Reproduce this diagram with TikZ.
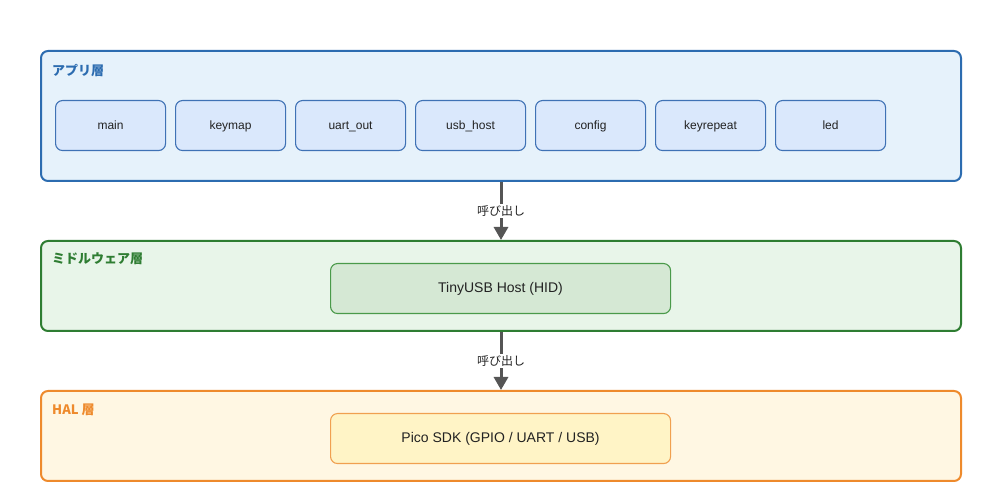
\documentclass[tikz,border=0pt]{standalone}
\usepackage{fontspec}
\setmainfont{Liberation Sans}
\newfontfamily\cjk{Noto Sans CJK JP}
\usetikzlibrary{arrows.meta}
\definecolor{appfill}{HTML}{E6F2FB}
\definecolor{appline}{HTML}{2C6CB0}
\definecolor{modfill}{HTML}{DAE8FC}
\definecolor{modline}{HTML}{3F72B5}
\definecolor{midfill}{HTML}{E8F5E9}
\definecolor{midline}{HTML}{2E7D32}
\definecolor{tufill}{HTML}{D5E8D4}
\definecolor{tuline}{HTML}{4A9A4A}
\definecolor{halfill}{HTML}{FFF7E3}
\definecolor{halline}{HTML}{EE8A2C}
\definecolor{picofill}{HTML}{FFF4C6}
\definecolor{picoline}{HTML}{F0A050}
\definecolor{arrowc}{HTML}{555555}
\definecolor{txt}{HTML}{222222}
\tikzset{
  layer/.style={draw, line width=2pt, rounded corners=7pt, anchor=north west, inner sep=0pt},
  modbox/.style={draw=modline, fill=modfill, line width=1.1pt, rounded corners=7pt, minimum width=110pt, minimum height=50pt, anchor=north west, font=\fontsize{12}{14}\selectfont, text=txt, text height=10pt, text depth=1.6pt},
  widebox/.style={line width=1.1pt, rounded corners=7pt, minimum width=340pt, minimum height=50pt, anchor=north west, font=\fontsize{14}{16}\selectfont, text=txt, text height=11pt, text depth=2.4pt},
  layerlabel/.style={anchor=west, inner sep=0pt, font=\cjk\bfseries\fontsize{13}{15}\selectfont},
  callarrow/.style={draw=arrowc, line width=3pt, -{Triangle[length=13pt,width=14pt]}},
  calllabel/.style={fill=white, inner sep=2pt, font=\cjk\fontsize{12}{14}\selectfont, text=txt}
}
\begin{document}
\begin{tikzpicture}[x=1pt,y=-1pt]
\useasboundingbox (0,0) rectangle (1002,502);
\fill[white] (0,0) rectangle (1002,502);
% layers
\node[layer, draw=appline, fill=appfill, minimum width=920pt, minimum height=130pt] (app) at (40,50) {};
\node[layer, draw=midline, fill=midfill, minimum width=920pt, minimum height=90pt] (mid) at (40,240) {};
\node[layer, draw=halline, fill=halfill, minimum width=920pt, minimum height=90pt] (hal) at (40,390) {};
\node[layerlabel, text=appline] (applbl) at (52,70) {アプリ層};
\node[layerlabel, text=midline] (midlbl) at (52,259) {ミドルウェア層};
\node[layerlabel, text=halline] (hallbl) at (52,410) {HAL 層};
% modules
\node[modbox] (main) at (55,100) {main};
\node[modbox] (keymap) at (175,100) {keymap};
\node[modbox] (uartout) at (295,100) {uart\_out};
\node[modbox] (usbhost) at (415,100) {usb\_host};
\node[modbox] (config) at (535,100) {config};
\node[modbox] (keyrepeat) at (655,100) {keyrepeat};
\node[modbox] (led) at (775,100) {led};
% middleware & HAL
\node[widebox, draw=tuline, fill=tufill] (tinyusb) at (330,263) {TinyUSB Host (HID)};
\node[widebox, draw=picoline, fill=picofill] (pico) at (330,413) {Pico SDK (GPIO / UART / USB)};
% arrows
\draw[callarrow] (app.south) -- node[calllabel] {呼び出し} (mid.north);
\draw[callarrow] (mid.south) -- node[calllabel] {呼び出し} (hal.north);
\end{tikzpicture}
\end{document}
